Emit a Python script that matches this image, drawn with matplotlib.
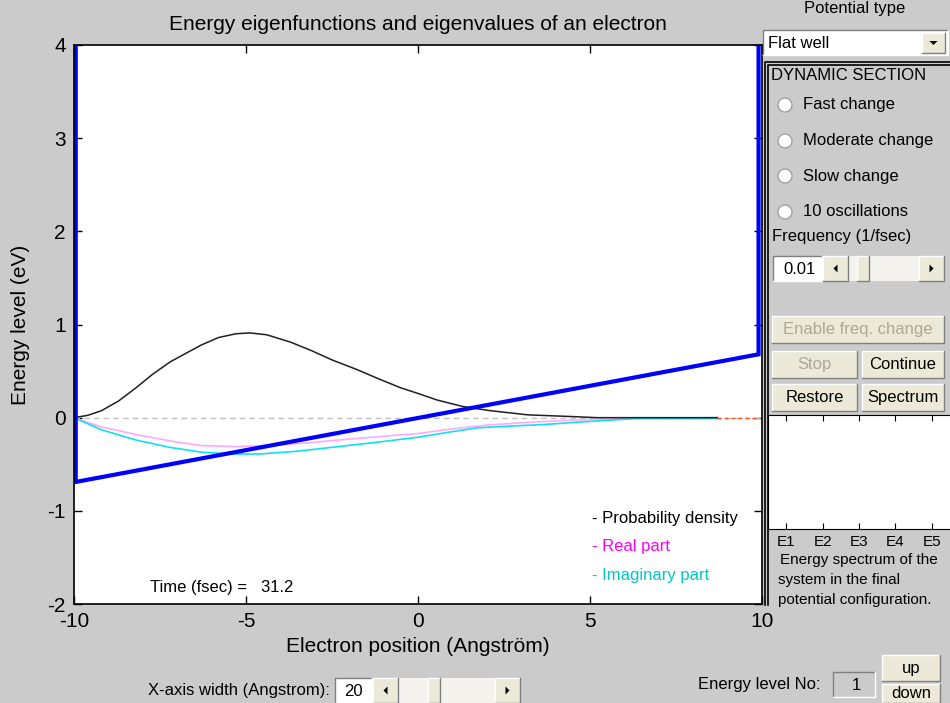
import numpy as np
import matplotlib
matplotlib.use('Agg')
import matplotlib.pyplot as plt
from matplotlib.patches import Rectangle, Ellipse, Polygon

plt.rcParams['font.family'] = ['Liberation Sans', 'DejaVu Sans']
plt.rcParams['axes.unicode_minus'] = False

W, H = 950, 703
BG = '#cbcbcb'
BTN = '#ece9d8'

# potential (eV) along the well
x_pot = [-9.95, -9.95, 9.9, 9.9]
v_pot = [4.2, -0.69, 0.68, 4.2]

# probability density
x_dens = [-10, -9.6, -9.2, -8.7, -8.2, -7.7, -7.2, -6.7, -6.3, -5.8, -5.3, -4.9, -4.4,
          -3.7, -3.1, -2.5, -1.8, -1.1, -0.5, 0.0, 0.55, 1.3, 2.1, 3.2, 4.6, 5.2, 8.7]
dens = [0, 0.025, 0.075, 0.18, 0.32, 0.47, 0.60, 0.70, 0.78, 0.86, 0.90, 0.91, 0.89,
        0.81, 0.72, 0.62, 0.52, 0.41, 0.32, 0.26, 0.19, 0.12, 0.075, 0.03, 0.01, 0.0, 0.0]

# real part
x_re = [-10, -9.2, -8.2, -7.2, -6.3, -5.3, -4.3, -3.2, -2.0, -1.0, 0, 1, 2, 3, 4, 5, 6, 7, 8.7]
re = [0, -0.10, -0.18, -0.25, -0.30, -0.31, -0.30, -0.27, -0.23, -0.20, -0.17,
      -0.12, -0.08, -0.055, -0.035, -0.02, -0.01, -0.005, 0]

# imaginary part
x_im = [-10, -9.2, -8.2, -7.2, -6.3, -5.3, -4.6, -3.5, -2.3, -1.1, 0, 1, 1.7, 2.7,
        3.6, 5.0, 6.3, 8.7]
im = [0, -0.13, -0.24, -0.32, -0.37, -0.39, -0.39, -0.36, -0.31, -0.26, -0.21,
      -0.15, -0.11, -0.09, -0.075, -0.04, -0.01, -0.01]

x_ticks = [-10, -5, 0, 5, 10]
y_ticks = [-2, -1, 0, 1, 2, 3, 4]
levels = ['E1', 'E2', 'E3', 'E4', 'E5']
time_fs = 31.2


def fx(px):
    return px / W


def fy(py):
    return 1 - py / H


def box(fig, x0, y0, x1, y1, fc, sunken=False, raised=False):
    fig.add_artist(Rectangle((fx(x0), fy(y1)), fx(x1 - x0), (y1 - y0) / H,
                             transform=fig.transFigure, fc=fc, ec='none'))
    if sunken or raised:
        dark, light = ('#808080', '#ffffff') if sunken else ('#ffffff', '#808080')
        fig.add_artist(plt.Line2D([fx(x0), fx(x0), fx(x1)], [fy(y1), fy(y0), fy(y0)],
                                  transform=fig.transFigure, color=dark, lw=1))
        fig.add_artist(plt.Line2D([fx(x0), fx(x1), fx(x1)], [fy(y1), fy(y1), fy(y0)],
                                  transform=fig.transFigure, color=light, lw=1))


def button(fig, x0, y0, x1, y1, label, enabled=True, size=12):
    box(fig, x0, y0, x1, y1, BTN, raised=True)
    fig.text(fx((x0 + x1) / 2), fy((y0 + y1) / 2), label, ha='center', va='center',
             fontsize=size, color='black' if enabled else '#aca899')


def arrow(fig, cx, cy, direction, s=4):
    if direction == 'left':
        pts = [(cx + s / 2, cy - s), (cx + s / 2, cy + s), (cx - s / 2, cy)]
    elif direction == 'right':
        pts = [(cx - s / 2, cy - s), (cx - s / 2, cy + s), (cx + s / 2, cy)]
    else:
        pts = [(cx - s, cy - s / 2), (cx + s, cy - s / 2), (cx, cy + s / 2)]
    fig.add_artist(Polygon([(fx(a), fy(b)) for a, b in pts], closed=True,
                           transform=fig.transFigure, fc='black', ec='none'))


def slider(fig, x0, y0, x1, y1, thumb):
    box(fig, x0, y0, x1, y1, '#f4f3ee')
    aw = y1 - y0
    box(fig, x0, y0, x0 + aw, y1, BTN, raised=True)
    box(fig, x1 - aw, y0, x1, y1, BTN, raised=True)
    arrow(fig, x0 + aw / 2, (y0 + y1) / 2, 'left')
    arrow(fig, x1 - aw / 2, (y0 + y1) / 2, 'right')
    box(fig, thumb, y0, thumb + 12, y1, BTN, raised=True)


fig = plt.figure(figsize=(W / 100, H / 100), dpi=100, facecolor=BG)

# main plot
ax = fig.add_axes([fx(74), fy(604), fx(762 - 74), (604 - 45) / H])
ax.plot([-10, 10], [0, 0], color='#c0c0c0', lw=1, dashes=(4, 3))
ax.plot(x_re, re, color='#ffa8ff', lw=1.2)
ax.plot(x_im, im, color='#10e0f0', lw=1.2)
ax.plot(x_dens, dens, color='#202020', lw=1.1)
ax.plot([x_dens[-1], 9.9], [0, 0], color='#ff5020', lw=1, dashes=(3, 2))
ax.plot(x_pot, v_pot, color='#0000ff', lw=3, solid_joinstyle='miter')
ax.set_xlim(-10, 10)
ax.set_ylim(-2, 4)
ax.set_xticks(x_ticks)
ax.set_yticks(y_ticks)
ax.tick_params(direction='in', length=6, width=1, labelsize=15, top=True, right=True,
               pad=6)
for s in ax.spines.values():
    s.set_linewidth(1.2)
ax.set_title('Energy eigenfunctions and eigenvalues of an electron', fontsize=15, pad=11)
ax.set_xlabel('Electron position (Angström)', fontsize=15, labelpad=4)
ax.set_ylabel('Energy level (eV)', fontsize=15, labelpad=12)

ax.text(0.753, 0.145, '- Probability density', transform=ax.transAxes, fontsize=12,
        color='black')
ax.text(0.753, 0.095, '- Real part', transform=ax.transAxes, fontsize=12, color='#ff00ff')
ax.text(0.753, 0.043, '- Imaginary part', transform=ax.transAxes, fontsize=12,
        color='#00c8c8')
ax.text(0.11, 0.022, 'Time (fsec) =   %.1f' % time_fs, transform=ax.transAxes,
        fontsize=12)

# right control panel
fig.text(fx(855), fy(8), 'Potential type', ha='center', va='center', fontsize=12)
box(fig, 763, 30, 948, 55, 'white', sunken=True)
fig.text(fx(768), fy(43), 'Flat well', va='center', fontsize=12)
box(fig, 922, 33, 945, 53, BTN, raised=True)
arrow(fig, 933.5, 43, 'down')

# frame of the dynamic section
fig.add_artist(plt.Line2D([fx(765), fx(765), fx(950)], [fy(605), fy(62), fy(62)],
                          transform=fig.transFigure, color='black', lw=1.2))
fig.add_artist(plt.Line2D([fx(768), fx(768), fx(950)], [fy(605), fy(65), fy(65)],
                          transform=fig.transFigure, color='black', lw=1.2))
fig.text(fx(771), fy(76), 'DYNAMIC SECTION', va='center', fontsize=12)
for lab, yy in zip(['Fast change', 'Moderate change', 'Slow change', '10 oscillations'],
                   [105, 141, 176, 212]):
    fig.add_artist(Ellipse((fx(785), fy(yy)), 14 / W, 14 / H, transform=fig.transFigure,
                           fc='white', ec='#a0a0a0', lw=1))
    fig.text(fx(803), fy(yy), lab, va='center', fontsize=12)
fig.text(fx(772), fy(237), 'Frequency (1/fsec)', va='center', fontsize=12)
box(fig, 773, 256, 822, 281, 'white', sunken=True)
fig.text(fx(783), fy(269), '0.01', va='center', fontsize=12)
slider(fig, 823, 256, 944, 281, 857)

button(fig, 772, 316, 944, 343, 'Enable freq. change', enabled=False)
button(fig, 772, 351, 857, 378, 'Stop', enabled=False)
button(fig, 862, 351, 944, 378, 'Continue')
button(fig, 772, 384, 857, 411, 'Restore')
button(fig, 862, 384, 944, 411, 'Spectrum')

# energy spectrum axes
sax = fig.add_axes([fx(768), fy(529), fx(950 - 768), (529 - 415) / H])
sax.set_xlim(0.5, 5.5)
sax.set_ylim(0, 1)
sax.set_xticks(range(1, len(levels) + 1))
sax.set_xticklabels(levels)
sax.set_yticks([])
sax.tick_params(direction='in', length=4, labelsize=11, top=True, pad=4)
sax.spines['right'].set_visible(False)
fig.text(fx(780), fy(560), 'Energy spectrum of the', va='center', fontsize=11)
fig.text(fx(778), fy(580), 'system in the final', va='center', fontsize=11)
fig.text(fx(778), fy(600), 'potential configuration.', va='center', fontsize=11)

# bottom controls
fig.text(fx(330), fy(690), 'X-axis width (Angstrom):', ha='right', va='center',
         fontsize=12)
box(fig, 335, 678, 372, 703, 'white', sunken=True)
fig.text(fx(353), fy(692), '20', ha='center', va='center', fontsize=12)
slider(fig, 373, 678, 520, 703, 428)

fig.text(fx(820), fy(685), 'Energy level No:', ha='right', va='center', fontsize=12)
box(fig, 833, 672, 875, 697, BG, sunken=True)
fig.text(fx(856), fy(685), '1', ha='center', va='center', fontsize=12)
button(fig, 882, 655, 940, 681, 'up')
button(fig, 882, 684, 940, 703, 'down')

fig.savefig('out.png', dpi=100, facecolor=BG)
